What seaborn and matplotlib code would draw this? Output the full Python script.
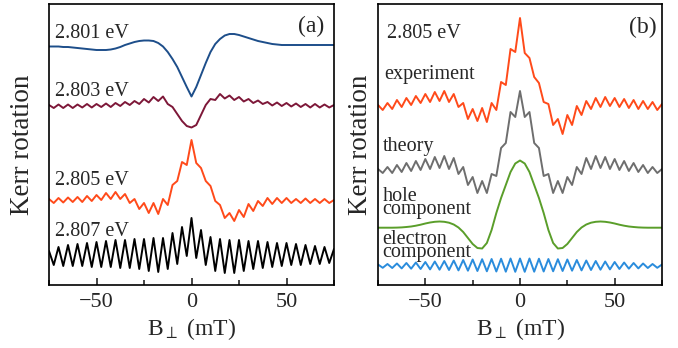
import numpy as np
import matplotlib
matplotlib.use("Agg")
import matplotlib.pyplot as plt
from matplotlib.ticker import MultipleLocator
import seaborn as sns

# magnetic field sampling (mT), peaks / troughs of the oscillations
field = np.arange(-75, 75.1, 2.5)

# panel (a): Kerr rotation traces (arbitrary units, offset for clarity)
kerr_2801 = [238.5, 238.5, 238.5, 238, 238, 237.5, 237, 236.5, 236, 235.5,
             235, 235, 235, 235.5, 236.5, 238, 240, 241.5, 243, 244,
             244.5, 244.5, 244, 242, 238.5, 233, 226, 218, 208, 198,
             188.5, 198, 210, 222, 233, 241, 246, 249.5, 251, 251,
             250, 248.5, 247, 245.5, 244, 243, 242, 241, 240.5, 240,
             240, 240, 240, 240, 240, 240, 240, 240, 240, 240,
             240]
kerr_2803 = [180, 177, 180.5, 177, 180.5, 177, 180.5, 177.5, 181, 177.5,
             181, 178, 181.5, 178, 182, 179, 183, 180, 184, 181,
             186, 182.5, 188, 184, 188.5, 181, 178, 171, 164, 159,
             157.5, 160, 170, 180, 186, 185, 191, 186.5, 189.5, 185,
             188, 183.5, 186, 182, 184.5, 181, 183, 179.5, 182.5, 179,
             182, 178.5, 181.5, 178, 181, 177.5, 181, 177.5, 180.5, 177.5,
             180]
kerr_2805 = [86, 82, 87, 82.5, 87.5, 83, 88, 83, 89, 84,
             90, 85, 92, 86, 93, 86, 91, 82, 86, 76,
             82, 72, 82, 71, 86, 80, 100, 104, 123, 120,
             145, 122, 117, 104, 99, 84, 80, 67, 72, 64,
             75, 68, 81, 74, 84, 79, 87, 81, 87, 82,
             87, 82, 86, 82, 86.5, 82, 86, 82, 86, 82,
             85]
kerr_2807 = [34, 20, 38, 19, 40, 19, 41, 19, 42, 18,
             43, 18, 44, 18, 45, 17, 45, 17, 46, 16,
             46, 14, 47, 13, 47, 16, 52, 21, 58, 29,
             67, 27, 55, 20, 48, 14, 46, 12, 45, 12,
             45, 14, 44, 16, 44, 17, 43, 18, 42, 19,
             42, 20, 41, 20, 40, 21, 39, 21, 38, 22,
             36]

# panel (b): 2.805 eV experiment vs. model
experiment = [180, 175, 182, 176, 185, 178, 187, 180, 189, 182,
              191, 183, 193, 184, 194, 183, 191, 178, 182, 166,
              176, 164, 177, 163, 182, 175, 203, 200, 236, 233,
              267, 232, 227, 208, 202, 183, 181, 160, 166, 151,
              170, 160, 179, 170, 184, 176, 187, 178, 188, 179,
              187, 178, 186, 177, 185, 176, 184, 176, 183, 175,
              181]
theory = [116, 112, 118, 112, 120, 113, 122, 114, 124, 115,
          126, 116, 128, 117, 129, 116, 127, 111, 118, 100,
          108, 92, 104, 92, 111, 109, 137, 142, 173, 168,
          194, 168, 173, 142, 137, 109, 111, 92, 104, 92,
          108, 100, 118, 111, 127, 116, 129, 117, 128, 116,
          126, 115, 124, 114, 122, 113, 120, 112, 118, 112,
          116]
hole = [57.3, 57.3, 57.3, 57.3, 57.4, 57.6, 58, 58.5, 59.3, 60.3,
        61.5, 62.5, 63.2, 63.5, 63.2, 62.3, 60.5, 57.5, 53, 47,
        41, 37, 36.5, 42, 55, 72, 87, 100, 113, 121.5,
        124.5, 121.5, 113, 100, 87, 72, 55, 42, 36.5, 37,
        41, 47, 53, 57.5, 60.5, 62.3, 63.2, 63.5, 63.2, 62.5,
        61.5, 60.3, 59.3, 58.5, 58, 57.6, 57.4, 57.3, 57.3, 57.3,
        57.3]
electron = [20.5, 17.2, 21, 17, 21.5, 16.6, 22, 16.3, 22.5, 16,
            23, 15.6, 23.5, 15.3, 24, 15, 24.5, 14.6, 25, 14.3,
            25.5, 14, 25.8, 13.7, 26, 13.5, 26.3, 13.3, 26.5, 13.2,
            26.5, 13.2, 26.5, 13.3, 26.3, 13.5, 26, 13.7, 25.8, 14,
            25.5, 14.3, 25, 14.6, 24.5, 15, 24, 15.3, 23.5, 15.6,
            23, 16, 22.5, 16.3, 22, 16.6, 21.5, 17, 21, 17.2,
            20.5]

sns.set_style("ticks")
plt.rcParams["font.family"] = ["Liberation Serif", "DejaVu Serif"]
plt.rcParams["mathtext.fontset"] = "stix"

fig = plt.figure(figsize=(6.78, 3.48), dpi=100)
ax_a = fig.add_axes([49 / 678, 63 / 348, 285 / 678, 281 / 348])
ax_b = fig.add_axes([378 / 678, 63 / 348, 284 / 678, 281 / 348])


def draw(ax, y, color):
    sns.lineplot(x=field, y=y, ax=ax, color=color, linewidth=1.4,
                 sort=False, estimator=None, solid_joinstyle="round")


draw(ax_a, kerr_2801, "#1d4e8a")
draw(ax_a, kerr_2803, "#7d1738")
draw(ax_a, kerr_2805, "#ff4a1a")
draw(ax_a, kerr_2807, "black")

draw(ax_b, experiment, "#ff4a1a")
draw(ax_b, theory, "#6e6e6e")
draw(ax_b, hole, "#5a9e2a")
draw(ax_b, electron, "#2a8cdc")

fs = 14.5
ax_a.text(-72, 247, "2.801 eV", fontsize=fs)
ax_a.text(-72, 188.5, "2.803 eV", fontsize=fs)
ax_a.text(-72, 100, "2.805 eV", fontsize=fs)
ax_a.text(-72, 49.5, "2.807 eV", fontsize=fs)
ax_a.text(70, 253, "(a)", fontsize=17, ha="right")

ax_b.text(-70.5, 247, "2.805 eV", fontsize=fs)
ax_b.text(72, 252, "(b)", fontsize=17, ha="right")
ax_b.text(-71.5, 205.5, "experiment", fontsize=fs)
ax_b.text(-72.5, 134, "theory", fontsize=fs)
ax_b.text(-72.5, 71, "hole\ncomponent", fontsize=fs, va="baseline",
          linespacing=0.6)
ax_b.text(-72.5, 28, "electron\ncomponent", fontsize=fs, va="baseline",
          linespacing=0.55)

for ax, lab_x in [(ax_a, -0.049), (ax_b, -0.018)]:
    ax.set_xlim(-75, 75)
    ax.set_ylim(0, 281)
    ax.set_yticks([])
    ax.xaxis.set_major_locator(MultipleLocator(50))
    ax.xaxis.set_minor_locator(MultipleLocator(25))
    ax.tick_params(axis="x", which="major", direction="in", length=5,
                   width=1.2, labelsize=16, pad=5.5)
    ax.tick_params(axis="x", which="minor", direction="in", length=3.5,
                   width=1.2)
    for sp in ax.spines.values():
        sp.set_linewidth(1.2)
        sp.set_color("black")
    ax.set_xlabel(r"B$_{\perp}$ (mT)", fontsize=17)
    ax.set_ylabel("Kerr rotation", fontsize=19.5)
    ax.yaxis.set_label_coords(lab_x, 0.5)
    ax.xaxis.set_label_coords(0.5, -0.11)

fig.savefig("out.png", dpi=100)
